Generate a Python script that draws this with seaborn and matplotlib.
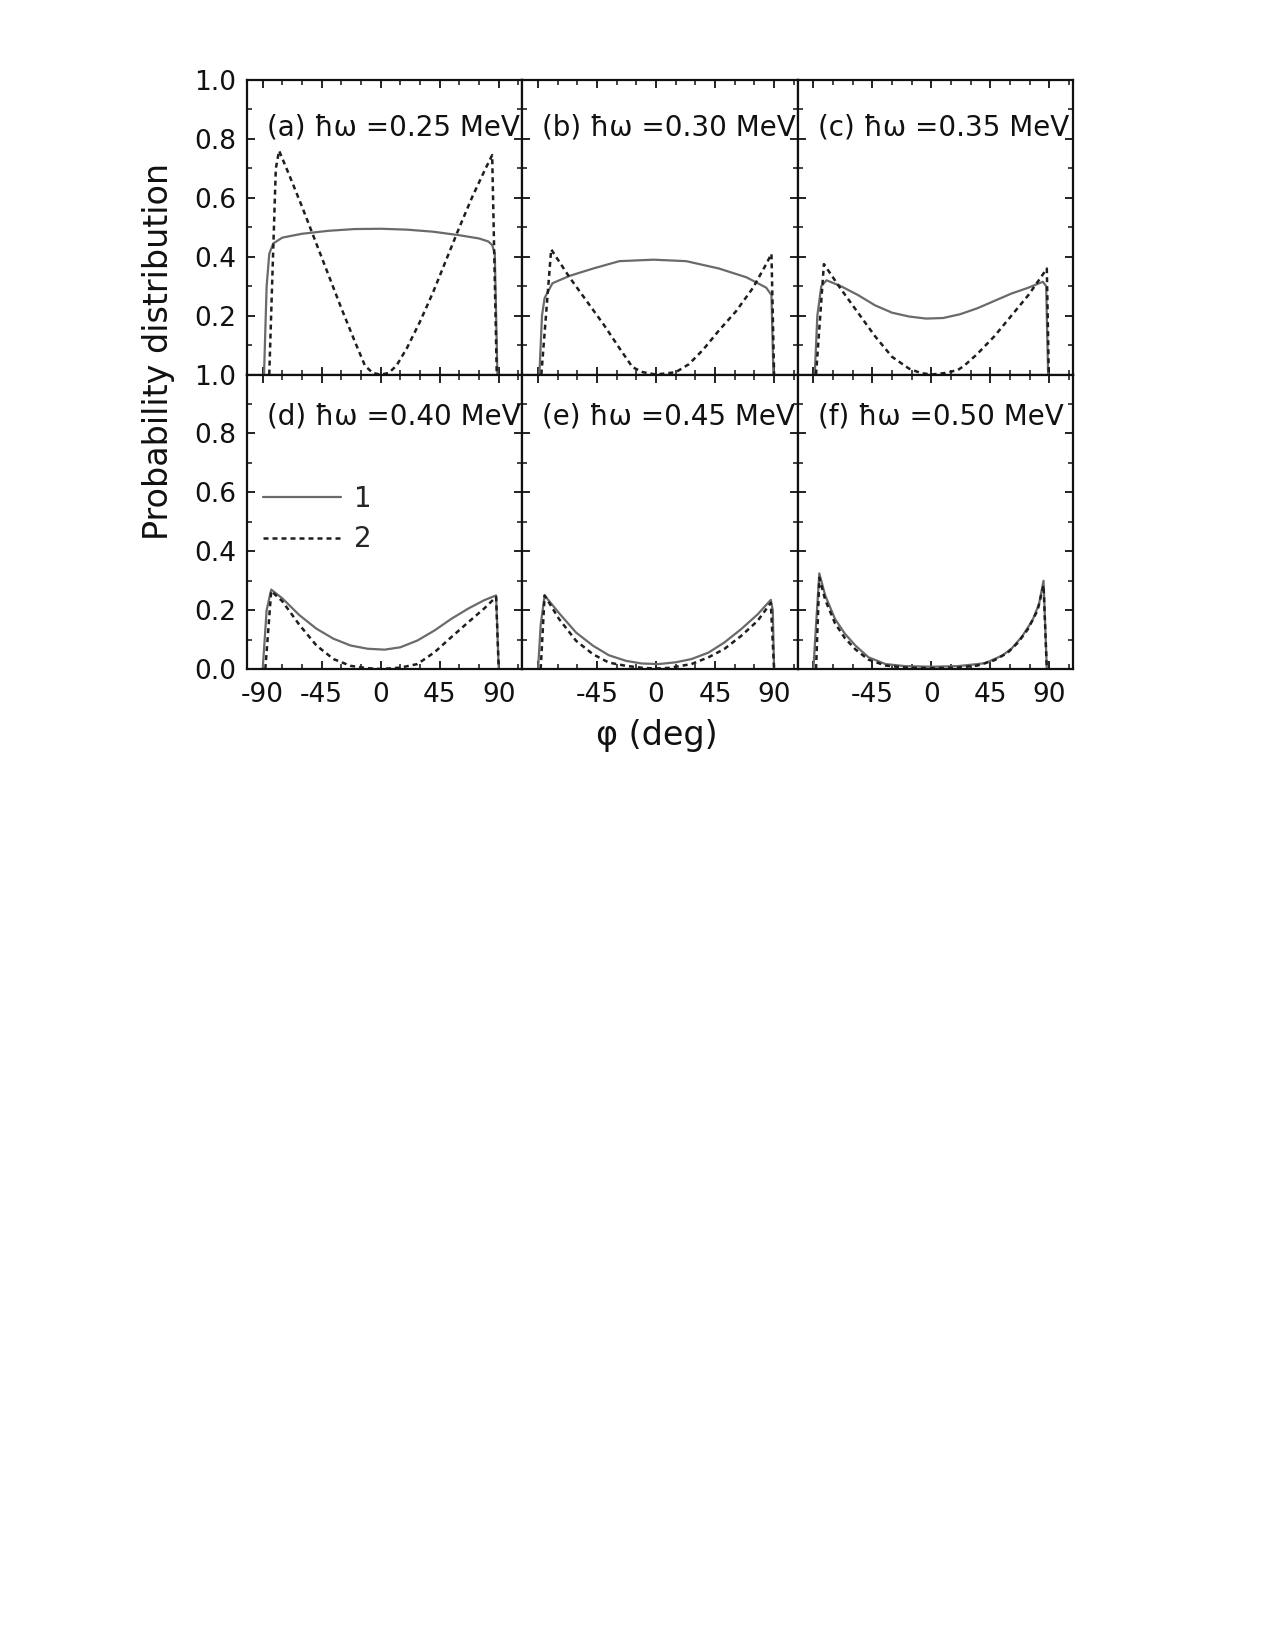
import numpy as np
import pandas as pd
import matplotlib
matplotlib.use("Agg")
import matplotlib.pyplot as plt
from matplotlib.ticker import MultipleLocator
import seaborn as sns

# panel titles
panel_labels = ["(a) ħω =0.25 MeV", "(b) ħω =0.30 MeV", "(c) ħω =0.35 MeV",
                "(d) ħω =0.40 MeV", "(e) ħω =0.45 MeV", "(f) ħω =0.50 MeV"]

# curve 1 (solid) and curve 2 (dashed), phi in degrees
phi_sol_a = [-89, -87, -85, -82, -75, -60, -40, -20, 0, 20, 40, 60, 75, 82, 85, 87, 89]
sol_a = [0.0, 0.30, 0.41, 0.445, 0.465, 0.478, 0.488, 0.494, 0.495, 0.492, 0.485, 0.473, 0.462, 0.452, 0.44, 0.41, 0.0]
phi_dash_a = [-85, -80, -77.5, -70, -60, -50, -40, -30, -20, -12, -6, 0, 6, 12, 20, 30, 40, 50, 60, 70, 80, 85, 88.5]
dash_a = [0.0, 0.70, 0.76, 0.68, 0.57, 0.455, 0.34, 0.225, 0.115, 0.03, 0.005, 0.0, 0.005, 0.03, 0.09, 0.18, 0.28, 0.39, 0.50, 0.605, 0.70, 0.745, 0.0]

phi_sol_b = [-89, -87, -85, -79, -66, -48, -28, -2, 23, 48, 69, 84, 88, 89.5]
sol_b = [0.0, 0.20, 0.26, 0.31, 0.335, 0.36, 0.385, 0.39, 0.385, 0.36, 0.33, 0.295, 0.27, 0.0]
phi_dash_b = [-87.5, -80, -66, -53, -40, -28, -18, -10, 0, 15, 25, 36, 48, 61, 74, 84, 88, 90]
dash_b = [0.0, 0.425, 0.33, 0.25, 0.17, 0.09, 0.025, 0.008, 0.0, 0.008, 0.035, 0.085, 0.15, 0.215, 0.295, 0.375, 0.41, 0.0]

phi_sol_c = [-89, -87, -84, -80, -69, -56, -43, -30, -17, -4, 9, 22, 35, 48, 61, 74, 85, 87.5, 89]
sol_c = [0.0, 0.20, 0.30, 0.32, 0.30, 0.27, 0.235, 0.21, 0.197, 0.19, 0.192, 0.205, 0.225, 0.25, 0.275, 0.295, 0.315, 0.30, 0.0]
phi_dash_c = [-88, -82, -69, -56, -43, -30, -17, -8, 0, 10, 20, 25, 35, 48, 61, 74, 85, 88, 89.5]
dash_c = [0.0, 0.375, 0.29, 0.21, 0.13, 0.06, 0.02, 0.005, 0.0, 0.005, 0.015, 0.03, 0.07, 0.13, 0.20, 0.27, 0.34, 0.36, 0.0]

phi_sol_d = [-90, -87, -83.5, -75, -62, -49, -36, -23, -10, 3, 15, 28, 41, 54, 67, 79, 88, 90]
sol_d = [0.0, 0.20, 0.27, 0.24, 0.183, 0.137, 0.103, 0.08, 0.069, 0.066, 0.074, 0.097, 0.131, 0.171, 0.206, 0.234, 0.25, 0.0]
phi_dash_d = [-88, -83.5, -75, -62, -49, -36, -23, -10, 0, 15, 28, 41, 54, 67, 79, 88, 90]
dash_d = [0.0, 0.265, 0.23, 0.15, 0.08, 0.034, 0.011, 0.003, 0.0, 0.005, 0.017, 0.057, 0.109, 0.16, 0.206, 0.245, 0.0]

phi_sol_e = [-90, -88, -85, -74, -61, -48, -36, -23, -11, 2, 15, 27, 40, 52, 65, 77.5, 87.5, 89, 90]
sol_e = [0.0, 0.15, 0.25, 0.19, 0.124, 0.079, 0.047, 0.028, 0.019, 0.017, 0.023, 0.034, 0.056, 0.09, 0.136, 0.186, 0.235, 0.20, 0.0]
phi_dash_e = [-88, -85, -74, -61, -48, -36, -23, -10, 0, 10, 27, 40, 52, 65, 77.5, 87.5, 90]
dash_e = [0.0, 0.25, 0.17, 0.096, 0.05, 0.022, 0.011, 0.004, 0.002, 0.004, 0.017, 0.04, 0.068, 0.113, 0.164, 0.225, 0.0]

phi_sol_f = [-90, -88, -85.5, -81, -73.5, -66, -58, -48, -35, -20, 0, 20, 35, 41, 54, 61, 69, 77, 82, 85.5, 88]
sol_f = [0.0, 0.15, 0.325, 0.25, 0.17, 0.12, 0.08, 0.04, 0.017, 0.01, 0.008, 0.01, 0.017, 0.02, 0.046, 0.069, 0.11, 0.165, 0.22, 0.30, 0.0]
phi_dash_f = [-88, -85.5, -81, -73.5, -66, -58, -48, -35, -20, 0, 20, 35, 48, 58, 66, 73.5, 81, 85.5, 88]
dash_f = [0.0, 0.31, 0.235, 0.155, 0.105, 0.067, 0.032, 0.012, 0.005, 0.003, 0.005, 0.012, 0.03, 0.055, 0.09, 0.135, 0.20, 0.285, 0.0]

solid_curves = [(phi_sol_a, sol_a), (phi_sol_b, sol_b), (phi_sol_c, sol_c),
                (phi_sol_d, sol_d), (phi_sol_e, sol_e), (phi_sol_f, sol_f)]
dashed_curves = [(phi_dash_a, dash_a), (phi_dash_b, dash_b), (phi_dash_c, dash_c),
                 (phi_dash_d, dash_d), (phi_dash_e, dash_e), (phi_dash_f, dash_f)]

x_ticks = [-90, -45, 0, 45, 90]
y_ticks = [0.0, 0.2, 0.4, 0.6, 0.8, 1.0]

sns.set_style("ticks")
plt.rcParams["font.family"] = ["DejaVu Sans"]

fig, axes = plt.subplots(2, 3, figsize=(12.75, 16.5), dpi=100)
fig.subplots_adjust(left=0.1937, right=0.8416, top=0.9515, bottom=0.5945,
                    wspace=0, hspace=0)

for i, ax in enumerate(axes.flat):
    row, col = divmod(i, 3)
    px, py = solid_curves[i]
    sns.lineplot(x=px, y=py, ax=ax, color="#6a6a6a", linewidth=1.6,
                 estimator=None, label="1" if i == 3 else None)
    px, py = dashed_curves[i]
    sns.lineplot(x=px, y=py, ax=ax, color="#1e1e1e", linewidth=1.8,
                 linestyle=(0, (2.0, 1.6)), estimator=None,
                 label="2" if i == 3 else None)

    ax.set_xlim(-102, 108)
    ax.set_ylim(0, 1.0)
    ax.set_xticks(x_ticks)
    ax.set_yticks(y_ticks)
    ax.xaxis.set_minor_locator(MultipleLocator(15))
    ax.yaxis.set_minor_locator(MultipleLocator(0.1))
    ax.tick_params(which="both", direction="in", top=True, right=True,
                   colors="#111111", labelsize=19)
    ax.tick_params(which="major", length=6, width=1.3)
    ax.tick_params(which="minor", length=3.5, width=1.1)
    ax.tick_params(axis="x", pad=9)
    ax.tick_params(axis="y", pad=8)
    for s in ax.spines.values():
        s.set_linewidth(1.6)
        s.set_color("#111111")

    if row == 1:
        if col == 0:
            ax.set_xticklabels(["-90", "-45", "0", "45", "90"])
        else:
            ax.set_xticklabels(["", "-45", "0", "45", "90"])
    else:
        ax.set_xticklabels([])

    if col == 0:
        if row == 0:
            ax.set_yticklabels(["", "0.2", "0.4", "0.6", "0.8", "1.0"])
        else:
            ax.set_yticklabels(["0.0", "0.2", "0.4", "0.6", "0.8", "1.0"])
    else:
        ax.set_yticklabels([])

    ax.set_xlabel("")
    ax.set_ylabel("")
    ty = 0.885 if row == 0 else 0.905
    ax.text(0.072, ty, panel_labels[i], transform=ax.transAxes,
            ha="left", va="top", fontsize=20, color="#111111")

    if i == 3:
        ax.legend(loc="upper left", bbox_to_anchor=(0.06, 0.625), frameon=False,
                  fontsize=20, handlelength=2.8, handletextpad=0.45,
                  labelspacing=0.45, borderpad=0, borderaxespad=0)
    elif ax.get_legend() is not None:
        ax.get_legend().remove()

fig.text(0.1245, 0.787, "Probability distribution", rotation=90,
         ha="center", va="center", fontsize=24, color="#111111")
fig.text(0.515, 0.554, "φ (deg)", ha="center", va="center",
         fontsize=24, color="#111111")

fig.savefig("out.png", dpi=100, facecolor="white")
